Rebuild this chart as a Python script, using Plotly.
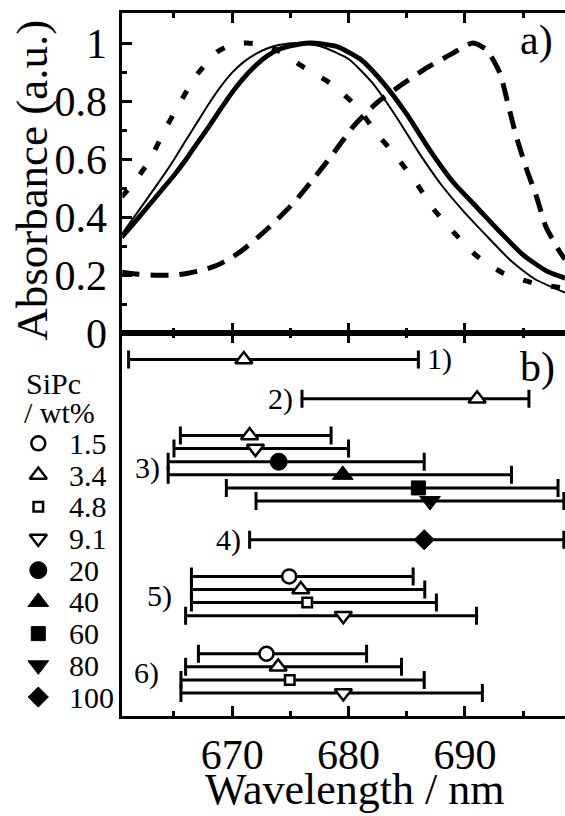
import plotly.graph_objects as go

# ---------------- data: panel a) normalised absorbance spectra ----------------
wl_thin = [660.5, 662, 663, 664, 665, 666, 667, 668, 669, 670, 671, 672, 673, 674, 675.6,
           677, 678, 680, 682, 684, 686, 688, 690, 692, 694, 696, 698.6]
abs_thin = [0.34, 0.424, 0.481, 0.538, 0.598, 0.663, 0.727, 0.791, 0.849, 0.898, 0.935, 0.962, 0.981, 0.993, 1.0,
            0.994, 0.983, 0.945, 0.865, 0.752, 0.625, 0.51, 0.415, 0.33, 0.248, 0.187, 0.14]

wl_thick = [660.5, 662, 663, 664, 665, 666, 667, 668, 669, 670, 671, 672, 673, 674, 675, 676.7,
            678, 679, 681, 683, 685, 687, 689, 691, 693, 695, 697, 698.6]
abs_thick = [0.33, 0.40, 0.448, 0.496, 0.544, 0.597, 0.655, 0.712, 0.772, 0.83, 0.88, 0.922, 0.955, 0.978, 0.99, 1.0,
             0.995, 0.988, 0.945, 0.862, 0.755, 0.63, 0.52, 0.435, 0.35, 0.27, 0.215, 0.19]

wl_dot = [660.5, 661.3, 662.9, 664.1, 665.45, 666.9, 668.7, 670, 671.2, 672.5, 673.8, 676.25, 678.4,
          680.7, 682.4, 684.1, 685.7, 687.3, 689.1, 691.0, 693.3, 696.0, 698.6]
abs_dot = [0.47, 0.506, 0.595, 0.692, 0.79, 0.887, 0.969, 0.995, 1.0, 0.995, 0.977, 0.914, 0.862,
           0.781, 0.69, 0.609, 0.525, 0.428, 0.345, 0.267, 0.207, 0.172, 0.155]

wl_dash = [660.5, 661.5, 663.5, 665, 666.2, 667.5, 668.8, 670, 671.1, 673.25, 675.25, 676.8, 678.7, 680.4,
           682.4, 684.55, 686.7, 689.0, 690.0, 690.7, 691.85, 693.0, 693.7, 694.4, 695.3, 696.15, 696.95,
           698.15, 698.6]
abs_dash = [0.21, 0.205, 0.2, 0.2, 0.207, 0.218, 0.236, 0.262, 0.293, 0.368, 0.448, 0.523, 0.62, 0.712,
            0.793, 0.856, 0.914, 0.966, 0.99, 1.0, 0.977, 0.897, 0.79, 0.68, 0.565, 0.471, 0.368,
            0.281, 0.255]

# ---------------- data: panel b) peak wavelength with ranges ----------------
legend_wt = ["1.5", "3.4", "4.8", "9.1", "20", "40", "60", "80", "100"]

group_labels = ["1)", "2)", "3)", "4)", "5)", "6)"]
row_group = [1, 2, 3, 3, 3, 3, 3, 3, 4, 5, 5, 5, 5, 6, 6, 6, 6]
row_wt = ["3.4", "3.4", "3.4", "9.1", "20", "40", "60", "80", "100",
          "1.5", "3.4", "4.8", "9.1", "1.5", "3.4", "4.8", "9.1"]
peak_nm = [671.0, 691.05, 671.5, 672.0, 674.0, 679.5, 686.0, 687.0, 686.5,
           674.9, 675.9, 676.45, 679.55, 672.95, 673.95, 674.95, 679.55]
low_nm = [661.1, 676.0, 665.55, 665.0, 664.5, 664.5, 669.5, 672.05, 671.5,
          666.5, 666.5, 666.5, 666.0, 667.1, 666.0, 665.6, 665.6]
high_nm = [686.0, 695.5, 678.5, 680.0, 686.5, 694.0, 698.0, 698.5, 698.5,
           685.55, 686.55, 687.55, 691.0, 681.55, 684.55, 686.5, 691.5]
row_pos = [2, 5, 7.8, 8.8, 9.8, 10.8, 11.8, 12.8, 15.75,
           18.55, 19.55, 20.55, 21.55, 24.45, 25.45, 26.45, 27.45]
# where each group label sits (nm of its anchoring edge)
label_nm = [686.57, 675.4, 663.97, 670.93, 665.04, 663.92]

x_ticks = [670, 680, 690]

# ---------------- styling ----------------
FONT = "Liberation Serif"
W, H = 565, 816
MT, MB = 13.3, 100.3
X0 = 122.3           # left frame edge (px)
YMID = 333.3         # boundary between panels (px)
PLOT_H = H - MT - MB
split = (H - MB - YMID) / PLOT_H
XR = [660.56, 698.6]
YR_TOP = [0, 1.1034]

def pxx(xp):
    return xp / W

def pxy(yp):
    return (H - MB - yp) / PLOT_H

MARK = {
    "1.5": ("circle", False, 14),
    "3.4": ("triangle-up", False, 15),
    "4.8": ("square", False, 9.5),
    "9.1": ("triangle-down", False, 15),
    "20": ("circle", True, 17),
    "40": ("triangle-up", True, 18),
    "60": ("square", True, 14),
    "80": ("triangle-down", True, 18),
    "100": ("diamond", True, 15.5),
}

def marker_style(wt):
    sym, filled, size = MARK[wt]
    if filled:
        return dict(symbol=sym, size=size, color="black", line=dict(color="black", width=1))
    return dict(symbol=sym, size=size, color="white", line=dict(color="black", width=2.5))

fig = go.Figure()

# panel a) curves
fig.add_trace(go.Scatter(x=wl_dash, y=abs_dash, xaxis="x2", yaxis="y2", mode="lines",
                         line=dict(color="black", width=5, dash="18px,11px", shape="spline", smoothing=0.6),
                         showlegend=False))
fig.add_trace(go.Scatter(x=wl_dot, y=abs_dot, xaxis="x2", yaxis="y2", mode="lines",
                         line=dict(color="black", width=5, dash="9px,20px", shape="spline", smoothing=0.6),
                         showlegend=False))
fig.add_trace(go.Scatter(x=wl_thin, y=abs_thin, xaxis="x2", yaxis="y2", mode="lines",
                         line=dict(color="black", width=2, shape="spline", smoothing=0.6),
                         showlegend=False))
fig.add_trace(go.Scatter(x=wl_thick, y=abs_thick, xaxis="x2", yaxis="y2", mode="lines",
                         line=dict(color="black", width=4.8, shape="spline", smoothing=0.6),
                         showlegend=False))

# panel b) rows (one trace per row, top to bottom)
for i in range(len(row_pos)):
    fig.add_trace(go.Scatter(
        x=[peak_nm[i]], y=[row_pos[i]], xaxis="x", yaxis="y", mode="markers",
        marker=marker_style(row_wt[i]),
        error_x=dict(type="data", symmetric=False,
                     array=[high_nm[i] - peak_nm[i]], arrayminus=[peak_nm[i] - low_nm[i]],
                     color="black", thickness=3, width=9),
        showlegend=False))

# manual legend (left margin)
LEG_Y0, LEG_DY, LEG_X = 443.3, 31.68, 38.3
for k, wt in enumerate(legend_wt):
    fig.add_trace(go.Scatter(x=[LEG_X], y=[LEG_Y0 + k * LEG_DY], xaxis="x3", yaxis="y3",
                             mode="markers", marker=marker_style(wt), showlegend=False,
                             cliponaxis=False))

annotations = []
for k, wt in enumerate(legend_wt):
    annotations.append(dict(x=pxx(67), y=pxy(LEG_Y0 + k * LEG_DY), xref="paper", yref="paper",
                            text=wt, showarrow=False, xanchor="left", yanchor="middle",
                            font=dict(family=FONT, size=30, color="black")))
annotations.append(dict(x=pxx(24), y=pxy(383), xref="paper", yref="paper", text="SiPc",
                        showarrow=False, xanchor="left", yanchor="middle",
                        font=dict(family=FONT, size=30, color="black")))
annotations.append(dict(x=pxx(22), y=pxy(412), xref="paper", yref="paper", text="/ wt%",
                        showarrow=False, xanchor="left", yanchor="middle",
                        font=dict(family=FONT, size=30, color="black")))

# group labels
for g, lab in enumerate(group_labels):
    rows = [row_pos[i] for i in range(len(row_pos)) if row_group[i] == g + 1]
    ymean = sum(rows) / len(rows)
    annotations.append(dict(x=label_nm[g], y=ymean, xref="x", yref="y", text=lab, showarrow=False,
                            xanchor="left" if g == 0 else "right", yanchor="middle",
                            font=dict(family=FONT, size=30, color="black")))

# panel labels
annotations.append(dict(x=pxx(536), y=pxy(41), xref="paper", yref="paper", text="a)", showarrow=False,
                        xanchor="center", yanchor="middle", font=dict(family=FONT, size=42, color="black")))
annotations.append(dict(x=pxx(537), y=pxy(367), xref="paper", yref="paper", text="b)", showarrow=False,
                        xanchor="center", yanchor="middle", font=dict(family=FONT, size=42, color="black")))

# axis titles
annotations.append(dict(x=pxx(355), y=pxy(789), xref="paper", yref="paper", text="Wavelength / nm",
                        showarrow=False, xanchor="center", yanchor="middle",
                        font=dict(family=FONT, size=44, color="black")))
annotations.append(dict(x=pxx(32), y=pxy(181), xref="paper", yref="paper", text="Absorbance (a.u.)",
                        showarrow=False, xanchor="center", yanchor="middle", textangle=-90,
                        font=dict(family=FONT, size=45, color="black")))

tickfont = dict(family=FONT, size=42, color="black")
common_x = dict(range=XR, tickmode="array", tickvals=x_ticks, ticks="inside", ticklen=10, tickwidth=3,
                tickcolor="black", showline=True, linewidth=3, linecolor="black", mirror="ticks",
                showgrid=False, zeroline=False, automargin=False,
                minor=dict(ticks="inside", ticklen=5, tickwidth=2.5, tickcolor="black",
                           tickmode="linear", tick0=660, dtick=5, showgrid=False))

fig.update_layout(
    width=W, height=H,
    margin=dict(l=0, r=0, t=MT, b=MB, pad=0, autoexpand=False),
    paper_bgcolor="white", plot_bgcolor="white",
    font=dict(family=FONT, color="black"),
    showlegend=False,
    xaxis=dict(domain=[pxx(X0), 1], anchor="y", showticklabels=True, tickfont=tickfont, **common_x),
    xaxis2=dict(domain=[pxx(X0), 1], anchor="y2", matches="x", showticklabels=False, **common_x),
    yaxis=dict(domain=[0, split], anchor="x", range=[29.2, 0], showticklabels=False, ticks="",
               showline=True, linewidth=3, linecolor="black", mirror=False, showgrid=False, zeroline=False,
               automargin=False),
    yaxis2=dict(domain=[split, 1], anchor="x2", range=YR_TOP, tickmode="linear", tick0=0, dtick=0.2,
                ticks="inside", ticklen=10, tickwidth=3, tickcolor="black", showline=True, linewidth=3,
                linecolor="black", mirror=False, showgrid=False, zeroline=False, tickfont=tickfont,
                ticklabelstandoff=4, automargin=False,
                minor=dict(ticks="inside", ticklen=5, tickwidth=2.5, tickcolor="black",
                           tickmode="linear", tick0=0, dtick=0.1, showgrid=False)),
    # right-hand frame ticks of panel a) (frame line itself lies just outside the picture)
    yaxis4=dict(overlaying="y2", side="right", anchor="x2", range=YR_TOP, tickmode="linear", tick0=0,
                dtick=0.2, ticks="inside", ticklen=5, tickwidth=3, tickcolor="black", showline=False,
                showticklabels=False, showgrid=False, zeroline=False, automargin=False,
                minor=dict(ticks="inside", ticklen=2, tickwidth=2.5, tickcolor="black",
                           tickmode="linear", tick0=0, dtick=0.1, showgrid=False)),
    xaxis3=dict(domain=[0, pxx(X0) - 0.01], anchor="y3", range=[0, X0 - 0.01 * W], visible=False),
    yaxis3=dict(domain=[0, 1], anchor="x3", range=[H - MB, MT], visible=False),
    annotations=annotations,
)

fig.write_html("out.html")
